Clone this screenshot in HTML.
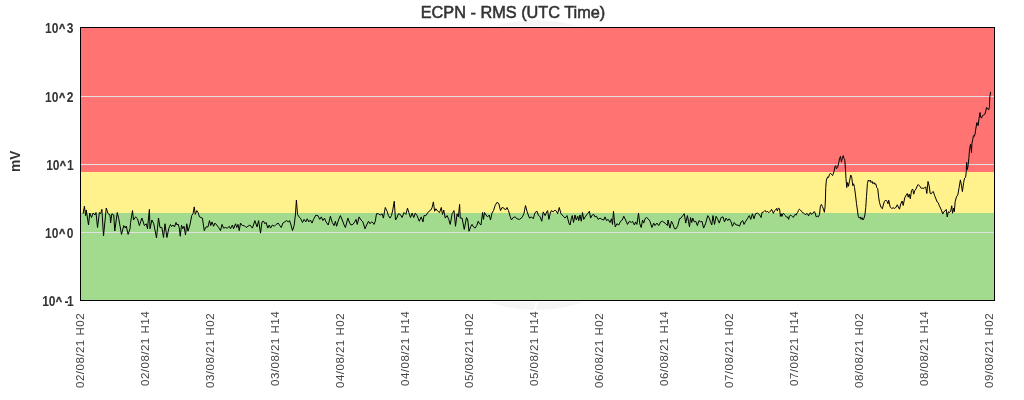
<!DOCTYPE html>
<html><head><meta charset="utf-8"><style>
html,body{margin:0;padding:0;background:#fff;width:1024px;height:400px;overflow:hidden}
svg{display:block;font-family:"Liberation Sans",sans-serif;will-change:transform}
</style></head><body>
<svg width="1024" height="400" viewBox="0 0 1024 400">
<rect x="0" y="0" width="1024" height="400" fill="#fff"/>
<circle cx="536" cy="165" r="145" fill="#f5f5f5"/>
<line x1="537" y1="300" x2="534.5" y2="312" stroke="#fff" stroke-width="2"/>
<text x="513" y="17.8" text-anchor="middle" font-size="16.3" fill="#333" stroke="#333" stroke-width="0.55">ECPN - RMS (UTC Time)</text>
<rect x="80.5" y="27.5" width="914" height="144.5" fill="#FF7373"/>
<rect x="80.5" y="172" width="914" height="41" fill="#FFF28C"/>
<rect x="80.5" y="213" width="914" height="87" fill="#A2DB8E"/>
<g stroke="#e1e1e1" stroke-width="1" shape-rendering="crispEdges">
<line x1="81" y1="96.5" x2="994" y2="96.5"/>
<line x1="81" y1="164.5" x2="994" y2="164.5"/>
<line x1="81" y1="232.5" x2="994" y2="232.5"/>
</g>
<polyline points="83.1,213.75 84.4,206.25 85.6,215.6 86.25,210 88.5,225 89.75,213 91.5,217.5 93.1,213 95,215 96,212.5 97.5,227.5 99.4,212.5 100.6,213.75 101.9,209.4 103.5,236 106.25,208 108.1,213.75 110,215 110.6,223 111.9,213.75 113.75,215 114.75,231 117.25,212.5 118.75,218.75 121.5,234.4 123.75,225.6 125.25,228 126.25,226 128.1,234.4 130,228.75 130.6,222.5 132.5,210.6 133.5,220 135.6,216.9 137.5,218.75 139.4,225.6 141.9,218 144.4,225.6 146.25,223.75 147.5,228.75 149.4,209.4 150,228.75 151.9,220 153.75,223.75 156.5,238 158.5,218 160,227.5 161.9,227.5 163.5,237.5 165,223.75 166.9,237.5 168.75,228.75 169.5,226.5 170.5,224.5 171.5,226.5 173,225 174.5,227 176,222.5 177,225 178,224 179.2,227.5 180.25,236.25 181.5,225 182.75,228.75 184,226.25 185.5,235 186.75,223.75 188,231.25 189.9,225 191.75,215.6 193,213.75 194.25,206.9 195.25,214.4 196.75,210.6 198,212.5 199.5,216.9 202.4,218.1 204.25,230.6 206.1,226.9 208,226.9 209.5,220.6 210.75,225.6 212,221.9 213.6,226.25 214.9,223.1 216.75,225 218.6,227.5 220.5,230.6 222,224.4 223.6,228.1 225.5,227.5 227.4,228.1 229.25,226.25 230.5,228.75 232.4,225 233.6,228.75 235.5,223.75 236.75,227.5 238,224.4 239.25,230.6 240.5,223.1 242.4,225.6 244.25,225.6 246.1,227.5 248,226.25 249.9,225 252.4,228.1 254.9,220.6 257,226.9 258.6,220.6 260.5,233.1 262,221.9 263.6,221.25 264.9,223.75 266.1,222.5 267.75,228.1 269.25,225 270.5,228.1 272.4,225 274.25,226.25 276.1,224.4 278.25,223.1 279.75,225.6 281.25,227.5 282.9,223.1 284.75,221.9 286.6,220.6 288.25,221.9 289.5,220.6 291,225 292.5,230.6 294.1,225.6 295.4,215 296.4,200 297.5,214.4 299.1,216.9 300.75,218.75 302.5,222.5 304.1,219.4 305.75,221.9 307.25,218.75 308.75,221.9 310.4,220 312,223.1 313.5,219.4 315.75,215.25 317.9,215.6 319.75,219.4 321.25,216.9 322.9,220.6 324.5,218.1 326,221.9 328.25,225 330.4,216.25 332.25,222.5 334.1,225.6 335.4,221.25 336.6,226.25 338.5,220 340.4,215.6 342.25,220 344.1,225 345.4,227.5 347.9,218.1 349.75,223.1 351,225 352.9,224.4 354.75,221.9 356,219.4 357.25,224.4 359.1,216.9 361,220 362.9,221.9 365,228.75 366.6,225 368.5,221.25 370,223.75 371.6,221.9 373.5,223.1 374,224.4 375.25,221.25 376.5,213.75 378.4,213.75 380.25,215 382.1,213.75 383.4,218.1 385.25,207.5 387.1,211.25 388.4,215.6 390,218.1 391.5,215.6 392.75,210 394.25,201.25 395.5,220 396.75,218.1 398.4,213.75 400.25,214.4 402.1,217.5 404,212.5 405.9,214.4 407.5,208.1 408.75,212.5 410.5,217.5 412.1,213.1 413.75,217.5 415.25,213.1 417.1,215.6 419.25,221.25 421.25,216.9 423,221.9 424,215.6 425.9,215.6 427.5,213.1 429,211.25 430.9,210 432.1,207.5 433.4,201.9 434.6,211.25 435.9,208.75 437.75,211.25 439.6,212.5 441.25,207.5 442.5,214.4 443.75,210 445.25,218.1 447.1,215.6 448.75,219.4 450.25,224.4 452.1,213.75 454,210.6 455.5,226.25 457.1,213.75 458.4,216.9 459.6,204.4 460.25,218.1 462.1,218.1 464.25,229.4 466.5,217.5 467.75,220 469,231.25 470.9,226.25 472,224.4 473.5,226.9 475.1,228.1 476.75,225.6 478.25,221.25 479.5,223.75 481,225 482.6,212.5 483.5,219.4 484.5,212.5 486,215 487.6,216.9 489.25,215 490.5,220 492,213.1 493.5,210.6 495.1,205.6 497,202.25 498.9,203.75 500.5,210.6 502,207.5 503.9,208.1 505.5,210 507,207.5 508.5,210.6 510.1,216.25 511.4,220 513.25,217.5 515.1,216.9 517,218.75 519.5,219.4 522,217.5 523.9,213.75 525.5,205.6 527,211.25 528.25,215 529.5,218.1 531.4,216.9 533.25,218.75 535.1,212.5 537,211.25 538.25,215 540.1,216.9 541.75,221.25 543.25,211.9 545.1,215.6 546.75,211.9 547.6,210.6 548.9,219.4 550.1,213.75 551.4,210.6 553.25,211.9 555.1,210 556.4,211.25 557.6,213.75 559.25,207.5 561,213.75 563.25,216.25 565.1,218.1 567,215.6 568.9,223.1 570,225 571.25,218.75 572.25,215.6 573.5,222.5 575,215 576.25,220 577.75,216.25 578.75,220.6 580,215 581.25,221.25 582.5,212.5 583.75,219.4 585.6,216.25 587.5,213.75 589.4,211.25 590.6,218.1 592.25,215 593.75,214.4 595,216.9 596.5,216.25 598.1,219.4 600,218.1 601.9,219.4 603.75,220 605,216.9 606.5,220.6 608.1,219.4 610,222.5 611.5,218.75 612.5,224.4 613.5,211.25 614.4,220.6 615.25,226.9 616.9,223.75 618.75,225 620.6,221.25 622.25,220 623.75,216.25 625.6,220 627.5,224.4 629.4,221.25 631.25,222.5 632.5,221.25 634.4,225 635.6,221.9 636.9,224.4 638.5,213.1 639.75,223.75 641.25,227.5 642.5,220 643.75,223.1 645,218.75 646.5,217.5 648.1,218.75 650,221.25 651.9,227.5 653.75,223.1 655,225.6 656.9,223.1 658.75,225.6 660.6,221.9 662.5,221.25 665,223.1 667.5,225.6 668,220 669.9,228.1 671.5,221.25 673,224.4 674.5,228.75 676.1,228.75 677.75,225.6 679.5,218.75 681.1,218.1 682.75,215.6 684.25,213.75 685.75,223.1 687.4,215.6 688.6,221.9 689.5,226.9 690.5,217.5 691.75,222.5 692.75,218.1 694.25,221.9 695.75,221.25 697.4,225.6 699,220.6 700.75,221.9 702,221.25 703.6,228.1 705.5,223.75 707.75,215.6 709.25,218.1 710.5,221.9 711.75,225 713,215.6 714.5,224.4 716.1,216.25 717.75,219.4 719.25,223.1 721.1,217.5 723,216.9 724.5,221.9 726.1,218.1 727.75,220.6 729.25,218.75 731.1,221.9 732.4,226.25 734.25,222.5 736.1,225 738,225 739.5,226.25 741.1,221.9 742.75,220.6 744,224.4 745.75,221.25 747.75,218.1 749.25,215.6 750.75,219.4 752.4,213.75 754,218.75 755.5,213.75 757.4,213.1 759.25,214.4 761.1,217.5 762,212.5 763.6,211.9 764,211.5 765.1,210.4 766.25,212.25 767.4,211.1 768.5,212.6 769.6,211.9 770.75,211.1 771.5,209.25 772.4,211.1 773.4,213.4 774.5,210.75 775.6,210 776.6,208.4 777.4,211.1 778.1,208.5 779,208.1 779.75,210 780.4,216.4 781.1,213.75 781.9,216.4 782.75,213.75 783.5,213.4 784.6,214.9 785.75,216 786.9,217.5 787.9,217.1 788.6,219.4 789.4,216 790.25,215.25 791.4,215.6 792.4,216.4 793.4,217.5 794.4,215.25 795.4,214.1 796.1,215.25 797,213 797.75,212.25 798.5,210.4 799.4,209.1 800.4,210 801.4,211.1 802.4,212.6 803.4,213 804.5,213.75 805.6,214.9 806.6,213.4 807.7,214.1 808.6,216 809.4,213.75 810.4,212.6 811.1,214.1 812.2,214.1 813.1,213 814.25,211.5 815.2,213 815.9,216 816.5,217.1 817.4,216 818.4,216.75 819.5,214.5 820.4,206.25 821.4,204.4 822.4,206.6 823.4,208.9 824.4,212.25 825.1,206.25 825.4,200 825.75,187.5 826.4,180 827.6,176.9 828.5,177.5 829.5,174.4 830.5,173.1 831.4,174.4 832.6,175.6 833.9,171.9 835.1,166.25 835.75,165.6 836.4,168.75 837.6,167.5 838.5,163.75 839.5,158.75 840.5,156.25 841.4,161.9 842.25,158.75 843.25,155.6 844,158.75 844.75,159.4 845.5,170 846,178.75 846.75,187.5 847.6,182.5 848.5,186.25 849.5,181.25 850.75,175 851.75,177.5 852.75,185.6 853.6,183.75 854.5,187.5 855.5,195 856.5,203.75 857.4,210 858.25,216.25 859.25,218.1 860.25,216.9 861.1,219.4 862,217.5 863,220 864,218.1 864.9,215 865.75,207.5 866.5,196.25 867.4,183.75 868.25,180 869.25,181.25 870.25,180 871.1,182.5 872,181.25 873,183.75 874,182.5 874.9,184.4 875.75,183.75 876.75,187.5 877.75,188.75 878.6,196.9 879.5,202.5 880.25,205 881.1,207.5 882.4,208.75 883.25,205 884.5,201.25 885.75,200 887,201.25 888,203.75 888.7,200.2 890.2,207 891.7,208.5 893.2,207.75 894.7,208.5 896.2,207 897.25,204.75 898.3,207 899.5,209.2 900.7,204 902.2,201 903.2,205.5 904.7,198 906.2,195 907.3,193.5 908.2,197.2 909.2,194.2 910.3,198.75 911.5,190.5 912.7,189 913.7,194.2 914.8,190.5 916,189 917.2,186 918.2,184.5 919.7,186 921.2,188.25 922.7,188.25 924.2,188.25 925.7,186.75 926.8,193.5 928,181.5 929.2,186 930.2,193.5 931.2,193.75 932.25,192.25 933.3,191.5 934.5,195.25 936,199 937.2,202 938.25,202.75 939.3,205.75 940.5,208 941.7,211 942.75,214 943.8,211.75 945,211 946.2,209.5 947.25,217 948.3,211.75 949.5,212.5 950.7,211 951.75,205.75 952.5,213.25 953.7,208 954.3,211.75 955.2,201.4 956.5,196.8 957.8,194.9 959.1,187.7 960.4,179.9 961.4,185.1 962.4,191.6 963.65,182.5 964.6,178 965.6,177.3 966.3,171.5 966.6,162.4 967.3,169.5 967.9,166.9 968.9,157.8 969.5,150 970.2,146 970.6,144.4 971.5,152.5 971.9,143.75 972.75,139.4 973.5,135.6 974.4,136.25 975.25,133.1 975.6,130 976.9,122.5 978.1,125.6 979,118.75 980,112.5 980.6,116.9 981.5,118.1 982.5,115.6 983.75,115 984.75,114.4 985.6,111.9 986.5,107.5 987.5,108.1 988.5,110 989.4,107.5 989.75,97.5 990.6,91.9" fill="none" stroke="#000" stroke-width="1" stroke-linejoin="round"/>
<rect x="79.5" y="26.5" width="916" height="275" fill="none" stroke="#fff" stroke-width="1"/>
<rect x="80.5" y="27.5" width="914" height="273" fill="none" stroke="#000" stroke-width="1"/>
<g font-size="13" font-weight="bold" fill="#333"><text transform="translate(58.4,33) scale(0.925,1.1)" text-anchor="end">10</text><text transform="translate(59.0,31.5) scale(0.82,0.863)" stroke="#333" stroke-width="0.6">^</text><text transform="translate(73.4,33) scale(0.925,1.1)" text-anchor="end">3</text><text transform="translate(58.4,102) scale(0.925,1.1)" text-anchor="end">10</text><text transform="translate(59.0,100.5) scale(0.82,0.863)" stroke="#333" stroke-width="0.6">^</text><text transform="translate(73.4,102) scale(0.925,1.1)" text-anchor="end">2</text><text transform="translate(58.4,238) scale(0.925,1.1)" text-anchor="end">10</text><text transform="translate(59.0,236.5) scale(0.82,0.863)" stroke="#333" stroke-width="0.6">^</text><text transform="translate(73.5,238) scale(0.925,1.1)" text-anchor="end">0</text><text transform="translate(59.5,170) scale(0.925,1.1)" text-anchor="end">10</text><text transform="translate(59.75,168.5) scale(0.82,0.863)" stroke="#333" stroke-width="0.6">^</text><text transform="translate(73.6,170) scale(0.925,1.1)" text-anchor="end">1</text><text transform="translate(55.5,306) scale(0.925,1.1)" text-anchor="end">10</text><text transform="translate(55.75,304.5) scale(0.82,0.863)" stroke="#333" stroke-width="0.6">^</text><text transform="translate(64.5,306) scale(0.925,1.1)" text-anchor="start">-</text><text transform="translate(73.6,306) scale(0.925,1.1)" text-anchor="end">1</text></g>
<text transform="translate(20.1,161.3) rotate(-90)" text-anchor="middle" font-size="13.8" font-weight="bold" fill="#333">mV</text>
<g font-size="11.5" letter-spacing="0.5" fill="#444">
<text transform="translate(84,388) rotate(-90)">02/08/21 H02</text>
<text transform="translate(149,386) rotate(-90)">02/08/21 H14</text>
<text transform="translate(214,388) rotate(-90)">03/08/21 H02</text>
<text transform="translate(279,386) rotate(-90)">03/08/21 H14</text>
<text transform="translate(344,388) rotate(-90)">04/08/21 H02</text>
<text transform="translate(409,386) rotate(-90)">04/08/21 H14</text>
<text transform="translate(473,388) rotate(-90)">05/08/21 H02</text>
<text transform="translate(538,386) rotate(-90)">05/08/21 H14</text>
<text transform="translate(603,388) rotate(-90)">06/08/21 H02</text>
<text transform="translate(668,386) rotate(-90)">06/08/21 H14</text>
<text transform="translate(733,388) rotate(-90)">07/08/21 H02</text>
<text transform="translate(798,386) rotate(-90)">07/08/21 H14</text>
<text transform="translate(863,388) rotate(-90)">08/08/21 H02</text>
<text transform="translate(928,386) rotate(-90)">08/08/21 H14</text>
<text transform="translate(993,388) rotate(-90)">09/08/21 H02</text>
</g>
</svg>
</body></html>
